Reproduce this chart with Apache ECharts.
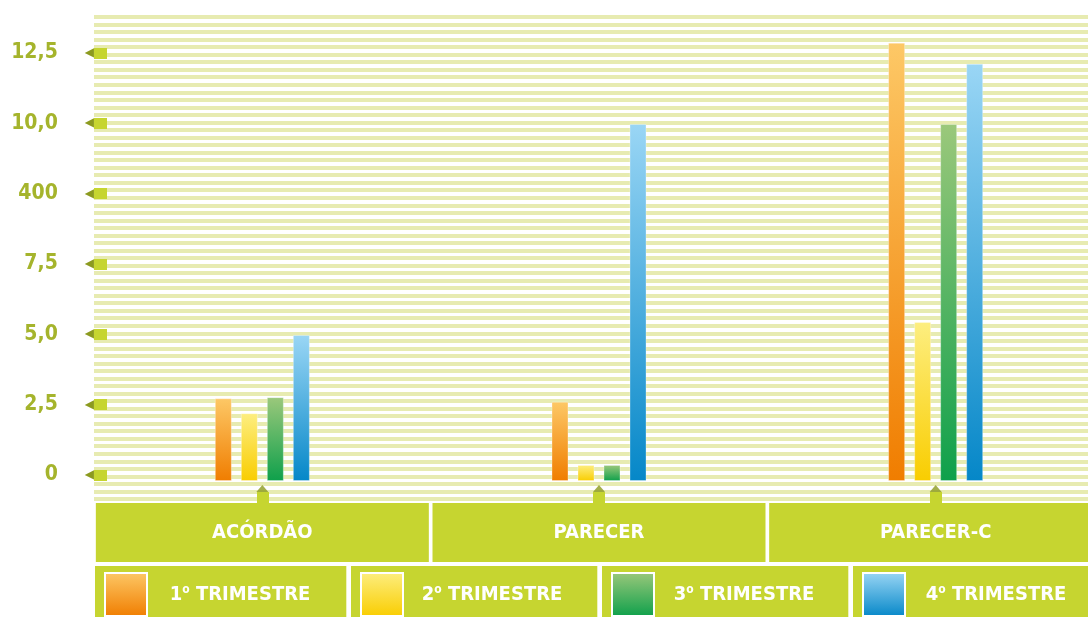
<!DOCTYPE html>
<html>
<head>
<meta charset="utf-8">
<script src="https://cdn.jsdelivr.net/npm/echarts@6/dist/echarts.min.js"></script>
<style>
  html, body { margin: 0; padding: 0; background: #ffffff; overflow: hidden; }
  #chart { width: 1105px; height: 617px; }
</style>
</head>
<body>
<div id="chart"></div>
<script>
// ---- data ----
const categories = ['ACÓRDÃO', 'PARECER', 'PARECER-C'];
const seriesNames = ['1º TRIMESTRE', '2º TRIMESTRE', '3º TRIMESTRE', '4º TRIMESTRE'];
const q1Values = [2.94, 2.82, 15.58];
const q2Values = [2.41, 0.57, 5.65];
const q3Values = [2.98, 0.57, 12.69];
const q4Values = [5.19, 12.69, 14.83];
const yTickValues = [0, 2.5, 5, 7.5, 10, 12.5, 15];
const yTickLabels = ['0', '2,5', '5,0', '7,5', '400', '10,0', '12,5'];

// ---- style ----
const FONT = "'DejaVu Sans Condensed', 'Liberation Sans', sans-serif";
const BAND = '#c6d530';
const STRIPE = '#e7ebb1';
const LABEL = '#a5b42c';
const DARK = '#8c9a1f';
const gradients = [
  ['#fdc866', '#f07d00'],
  ['#fdee80', '#f9cd00'],
  ['#9bc87b', '#0ea04b'],
  ['#9ad6f5', '#0587c8']
];
const grad = (c) => new echarts.graphic.LinearGradient(0, 0, 0, 1, [
  { offset: 0, color: c[0] }, { offset: 1, color: c[1] }
]);

// scale: pixels per unit; grid height 488
const PX_PER_UNIT = 70.33 / 2.5;
const GRID_H = 488;
const barAxisMin = -22 / PX_PER_UNIT;
const barAxisMax = barAxisMin + GRID_H / PX_PER_UNIT;
const lblAxisMin = -28 / PX_PER_UNIT;
const lblAxisMax = lblAxisMin + GRID_H / PX_PER_UNIT;
const STRIPE_PERIOD = 7.53;
const stripeAxisMin = -2 / STRIPE_PERIOD;
const stripeAxisMax = stripeAxisMin + GRID_H / STRIPE_PERIOD;
const stripeIndex = Array.from({ length: 65 }, (_, i) => i);

const valueLists = [q1Values, q2Values, q3Values, q4Values];

const legendBoxes = [
  { left: 95, w: 176, pr: 36 },
  { left: 351, w: 168, pr: 35 },
  { left: 602, w: 170, pr: 34 },
  { left: 853, w: 172, pr: 40 }
];

const chart = echarts.init(document.getElementById('chart'), null, { renderer: 'canvas' });

const option = {
  animation: false,
  backgroundColor: '#ffffff',
  grid: { left: 94, top: 15, right: 0, height: GRID_H, containLabel: false },
  xAxis: {
    type: 'category',
    data: categories,
    axisLine: { show: false, onZero: false },
    axisTick: {
      show: true, inside: true, alignWithLabel: true, length: 11,
      lineStyle: { color: BAND, width: 12 }
    },
    axisLabel: {
      interval: 0, margin: 0,
      color: '#ffffff', fontFamily: FONT, fontWeight: 'bold', fontSize: 20,
      backgroundColor: BAND, width: 333, height: 59, lineHeight: 59,
      align: 'center', verticalAlign: 'top'
    },
    splitLine: { show: false }
  },
  yAxis: [
    {
      type: 'value', min: lblAxisMin, max: lblAxisMax, interval: 2.5,
      axisLine: { show: false },
      axisTick: {
        show: true, inside: true, length: 13, customValues: yTickValues,
        lineStyle: { color: BAND, width: 11 }
      },
      axisLabel: {
        margin: 0, customValues: yTickValues,
        formatter: (v) => {
          const i = yTickValues.indexOf(v);
          return i < 0 ? '' : '{v|' + yTickLabels[i] + '}{a|◀}';
        },
        rich: {
          v: { color: LABEL, fontFamily: FONT, fontWeight: 'bold', fontSize: 21, padding: [0, 27, 0, 0] },
          a: { color: DARK, fontSize: 12, fontFamily: 'DejaVu Sans' }
        }
      },
      splitLine: { show: false }
    },
    {
      type: 'value', min: barAxisMin, max: barAxisMax, show: false
    },
    {
      type: 'value', inverse: true, min: stripeAxisMin, max: stripeAxisMax,
      axisLine: { show: false },
      axisTick: { show: false, customValues: stripeIndex },
      axisLabel: { show: false },
      splitLine: { show: true, lineStyle: { color: STRIPE, width: 4.1 } },
      splitArea: { show: false }
    }
  ],
  legend: legendBoxes.map((b, i) => ({
    data: [seriesNames[i]],
    left: b.left, top: 566,
    orient: 'horizontal',
    padding: [6, b.pr, 6, 9],
    backgroundColor: BAND,
    itemWidth: 42, itemHeight: 43,
    icon: 'rect',
    itemStyle: { borderColor: '#ffffff', borderWidth: 2 },
    selectedMode: false,
    formatter: (name) => {
      const m = name.match(/^(\d)º (.*)$/);
      return '{n|' + m[1] + '}{s|o}{t| ' + m[2] + '}';
    },
    textStyle: {
      width: b.w,
      color: '#ffffff', fontFamily: FONT, fontWeight: 'bold', fontSize: 20,
      rich: {
        n: { align: 'center', color: '#fff', fontFamily: FONT, fontWeight: 'bold', fontSize: 20, lineHeight: 22 },
        s: { align: 'center', color: '#fff', fontFamily: FONT, fontWeight: 'bold', fontSize: 12, lineHeight: 12, verticalAlign: 'top' },
        t: { align: 'center', color: '#fff', fontFamily: FONT, fontWeight: 'bold', fontSize: 20, lineHeight: 22 }
      }
    }
  })),
  series: [
    ...seriesNames.map((name, i) => ({
      name: name,
      type: 'bar',
      xAxisIndex: 0, yAxisIndex: 1,
      barWidth: 17, barGap: '53%',
      data: valueLists[i],
      itemStyle: { color: grad(gradients[i]), borderColor: 'rgba(255,255,255,0.3)', borderWidth: 1 },
      z: 3
    })),
    {
      type: 'scatter',
      xAxisIndex: 0, yAxisIndex: 1,
      data: categories.map((c) => [c, barAxisMin]),
      symbol: 'triangle', symbolSize: [12, 7], symbolOffset: [0, -14.5],
      itemStyle: { color: DARK },
      clip: false, silent: true, z: 4
    }
  ]
};
chart.setOption(option);
</script>
</body>
</html>
